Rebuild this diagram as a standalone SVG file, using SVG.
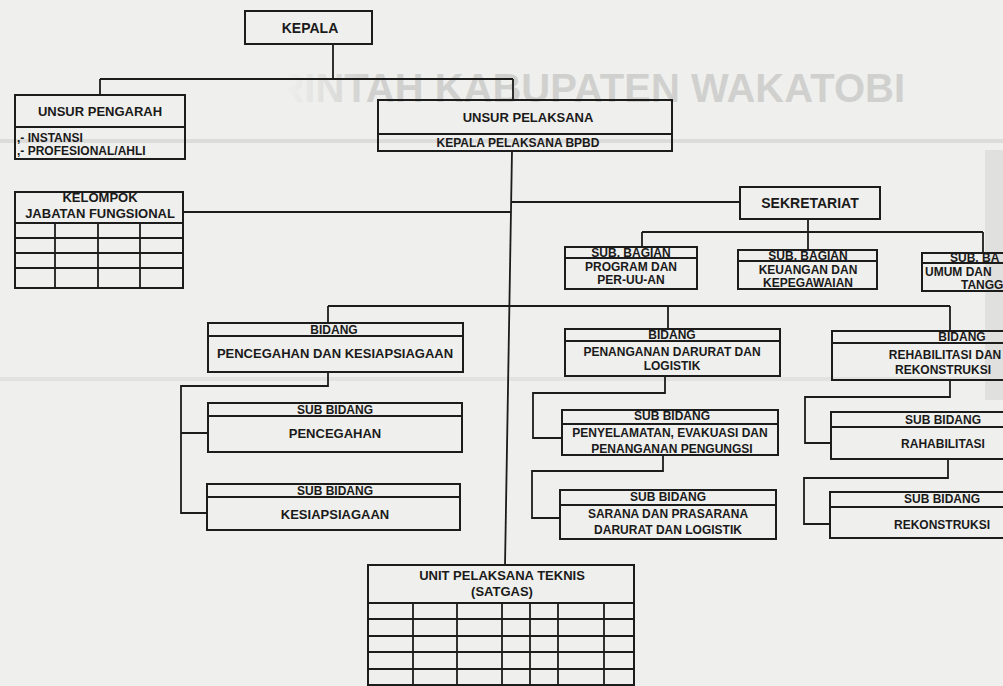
<svg xmlns="http://www.w3.org/2000/svg" width="1003" height="686" viewBox="0 0 1003 686">
<defs>
<linearGradient id="wm" gradientUnits="userSpaceOnUse" x1="285" y1="0" x2="370" y2="0">
<stop offset="0" stop-color="#d0d0ce" stop-opacity="0"/>
<stop offset="1" stop-color="#d0d0ce" stop-opacity="1"/>
</linearGradient>
</defs>
<style>
.box{fill:none;stroke:#1c1c1c;stroke-width:2}
.ln{fill:none;stroke:#1c1c1c;stroke-width:1.8}
.t{font-family:"Liberation Sans",Arial,sans-serif;font-weight:bold;font-size:13px;fill:#1a1a1a;text-anchor:middle}
.s{text-anchor:start}
.big{font-size:14px}
.sm{font-size:12px}
</style>
<rect width="1003" height="686" fill="#efefed"/>
<g id="scan-marks">
<rect x="0" y="139" width="1003" height="4" fill="#dcdcda"/>
<rect x="0" y="377" width="1003" height="4" fill="#e2e2e0"/>
<rect x="985" y="150" width="18" height="250" fill="#e0e0de"/>
<text x="905" y="102" font-family="Liberation Sans,Arial,sans-serif" font-weight="bold" font-size="40" text-anchor="end" fill="url(#wm)">PEMERINTAH KABUPATEN WAKATOBI</text>
</g>
<g id="connectors">
<path class="ln" d="M333,44V79M100,79H513M100,79V95M513,79V100"/>
<path class="ln" d="M512,151L505,566"/>
<path class="ln" d="M183,212H511"/>
<path class="ln" d="M511,202H740"/>
<path class="ln" d="M808,219V250M642,232H983M642,232V247M983,232V253"/>
<path class="ln" d="M328,306H950M328,306V323M668,306V329M950,306V331"/>
<path class="ln" d="M328,372V386H181V513H207M181,433H208"/>
<path class="ln" d="M665,376V393H533V438H562M663,455V471H532V518H560"/>
<path class="ln" d="M950,380V397H805V443H831M948,459V478H804V524H830"/>
</g>
<g id="kepala">
<rect class="box" x="245" y="11" width="127" height="33"/>
<text class="t big" x="310" y="33">KEPALA</text>
</g>
<g id="unsur-pengarah">
<rect class="box" x="15" y="95" width="170" height="64"/>
<path class="ln" d="M15,127H185"/>
<text class="t" x="100" y="116">UNSUR PENGARAH</text>
<text class="t s sm" x="17" y="142">,- INSTANSI</text>
<text class="t s sm" x="17" y="155">,- PROFESIONAL/AHLI</text>
</g>
<g id="unsur-pelaksana">
<rect class="box" x="378" y="100" width="294" height="51"/>
<path class="ln" d="M378,134H672"/>
<text class="t" x="528" y="122">UNSUR PELAKSANA</text>
<text class="t sm" x="518" y="147">KEPALA PELAKSANA BPBD</text>
</g>
<g id="kelompok">
<rect class="box" x="15" y="192" width="168" height="96"/>
<path class="ln" d="M15,223H183M15,238H183M15,253H183M15,268H183M55,223V288M98,223V288M140,223V288"/>
<text class="t" x="100" y="202">KELOMPOK</text>
<text class="t" x="100" y="218">JABATAN FUNGSIONAL</text>
</g>
<g id="sekretariat">
<rect class="box" x="740" y="187" width="140" height="32"/>
<text class="t big" x="810" y="208">SEKRETARIAT</text>
</g>
<g id="subbag-program">
<rect class="box" x="565" y="247" width="132" height="42"/>
<path class="ln" d="M565,258H697"/>
<text class="t sm" x="631" y="257">SUB. BAGIAN</text>
<text class="t sm" x="631" y="271">PROGRAM DAN</text>
<text class="t sm" x="631" y="284">PER-UU-AN</text>
</g>
<g id="subbag-keuangan">
<rect class="box" x="738" y="250" width="139" height="39"/>
<path class="ln" d="M738,261H877"/>
<text class="t sm" x="808" y="260">SUB. BAGIAN</text>
<text class="t sm" x="808" y="274">KEUANGAN DAN</text>
<text class="t sm" x="808" y="287">KEPEGAWAIAN</text>
</g>
<g id="subbag-umum">
<path class="box" d="M1003,253H922V291H1003"/>
<path class="ln" d="M922,263H1003"/>
<text class="t s sm" x="950" y="262">SUB. BA</text>
<text class="t s sm" x="925" y="276">UMUM DAN</text>
<text class="t s sm" x="961" y="289">TANGG</text>
</g>
<g id="bidang-pencegahan">
<rect class="box" x="208" y="323" width="255" height="49"/>
<path class="ln" d="M208,336H463"/>
<text class="t sm" x="334" y="334">BIDANG</text>
<text class="t" x="335" y="358">PENCEGAHAN DAN KESIAPSIAGAAN</text>
</g>
<g id="sub-pencegahan">
<rect class="box" x="208" y="403" width="254" height="49"/>
<path class="ln" d="M208,416H462"/>
<text class="t sm" x="335" y="414">SUB BIDANG</text>
<text class="t" x="335" y="438">PENCEGAHAN</text>
</g>
<g id="sub-kesiapsiagaan">
<rect class="box" x="207" y="484" width="253" height="46"/>
<path class="ln" d="M207,497H460"/>
<text class="t sm" x="335" y="495">SUB BIDANG</text>
<text class="t" x="335" y="519">KESIAPSIAGAAN</text>
</g>
<g id="bidang-penanganan">
<rect class="box" x="565" y="329" width="215" height="47"/>
<path class="ln" d="M565,341H780"/>
<text class="t sm" x="672" y="339">BIDANG</text>
<text class="t sm" x="672" y="356">PENANGANAN DARURAT DAN</text>
<text class="t sm" x="672" y="370">LOGISTIK</text>
</g>
<g id="sub-penyelamatan">
<rect class="box" x="562" y="410" width="216" height="45"/>
<path class="ln" d="M562,424H778"/>
<text class="t sm" x="672" y="420">SUB BIDANG</text>
<text class="t sm" x="670" y="437">PENYELAMATAN, EVAKUASI DAN</text>
<text class="t sm" x="672" y="453">PENANGANAN PENGUNGSI</text>
</g>
<g id="sub-sarana">
<rect class="box" x="560" y="490" width="216" height="49"/>
<path class="ln" d="M560,505H776"/>
<text class="t sm" x="668" y="501">SUB BIDANG</text>
<text class="t sm" x="668" y="518">SARANA DAN PRASARANA</text>
<text class="t sm" x="668" y="534">DARURAT DAN LOGISTIK</text>
</g>
<g id="bidang-rehabilitasi">
<path class="box" d="M1003,331H832V380H1003"/>
<path class="ln" d="M832,343H1003"/>
<text class="t sm" x="962" y="341">BIDANG</text>
<text class="t sm" x="945" y="359">REHABILITASI DAN</text>
<text class="t sm" x="943" y="374">REKONSTRUKSI</text>
</g>
<g id="sub-rehabilitasi">
<path class="box" d="M1003,412H831V459H1003"/>
<path class="ln" d="M831,427H1003"/>
<text class="t sm" x="943" y="424">SUB BIDANG</text>
<text class="t sm" x="943" y="448">RAHABILITASI</text>
</g>
<g id="sub-rekonstruksi">
<path class="box" d="M1003,492H830V538H1003"/>
<path class="ln" d="M830,507H1003"/>
<text class="t sm" x="942" y="503">SUB BIDANG</text>
<text class="t sm" x="942" y="529">REKONSTRUKSI</text>
</g>
<g id="unit-pelaksana-teknis">
<path class="box" d="M368,686V565H634V686"/>
<path class="ln" d="M368,603H634M368,619H634M368,636H634M368,652H634M368,669H634M368,685H634M413,603V686M457,603V686M502,603V686M530,603V686M558,603V686M604,603V686"/>
<text class="t" x="502" y="580">UNIT PELAKSANA TEKNIS</text>
<text class="t" x="502" y="596">(SATGAS)</text>
</g>
</svg>
